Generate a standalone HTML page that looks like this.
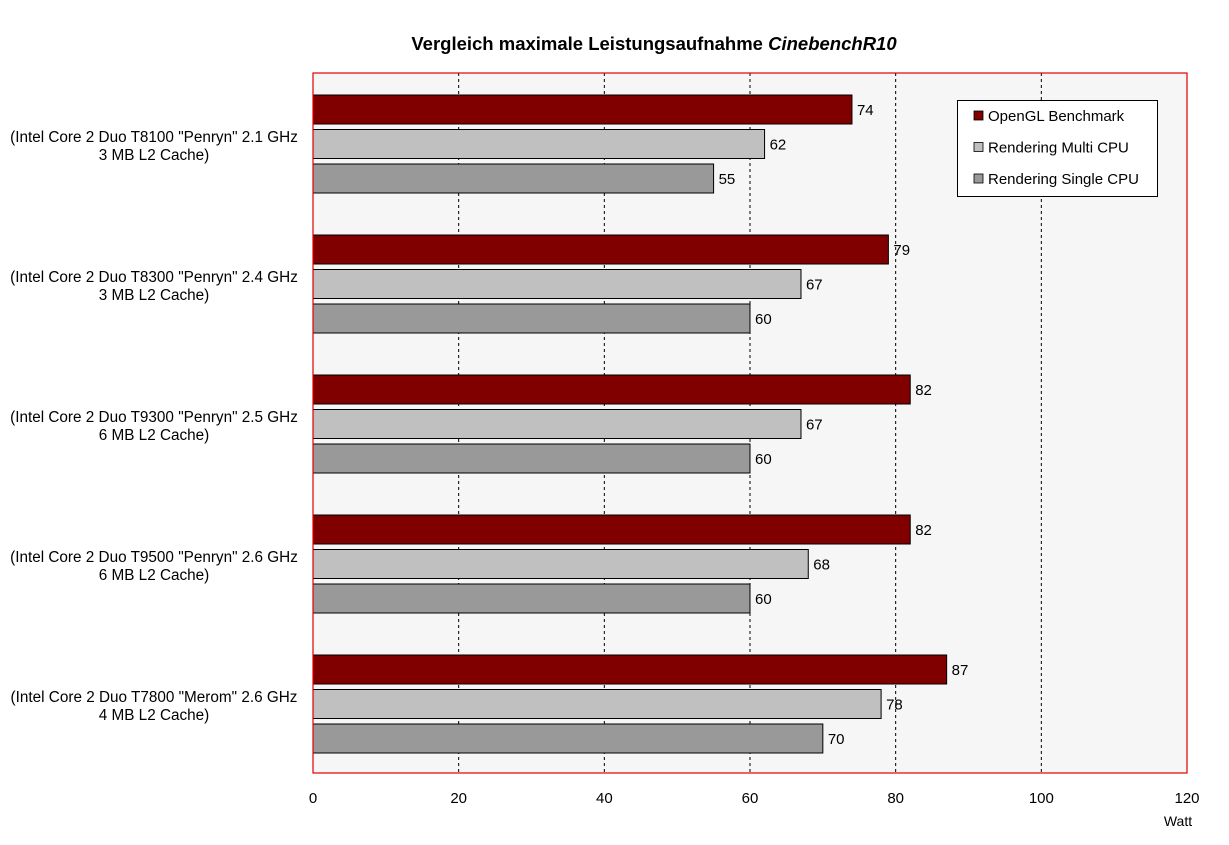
<!DOCTYPE html>
<html><head><meta charset="utf-8"><style>
body{margin:0;background:#fff;font-family:"Liberation Sans",Arial,sans-serif}
</style></head><body>
<svg id="chart" width="1229" height="840" xmlns="http://www.w3.org/2000/svg" font-family="Liberation Sans, Arial, sans-serif"></svg>
<script>
const categories=[['(Intel Core 2 Duo T8100 "Penryn" 2.1 GHz','3 MB L2 Cache)'],['(Intel Core 2 Duo T8300 "Penryn" 2.4 GHz','3 MB L2 Cache)'],['(Intel Core 2 Duo T9300 "Penryn" 2.5 GHz','6 MB L2 Cache)'],['(Intel Core 2 Duo T9500 "Penryn" 2.6 GHz','6 MB L2 Cache)'],['(Intel Core 2 Duo T7800 "Merom" 2.6 GHz','4 MB L2 Cache)']];
const openGL=[74,79,82,82,87];
const multiCPU=[62,67,67,68,78];
const singleCPU=[55,60,60,60,70];
const seriesNames=['OpenGL Benchmark','Rendering Multi CPU','Rendering Single CPU'];
const xTicks=[0,20,40,60,80,100,120];
const svg=document.getElementById('chart');
const NS='http://www.w3.org/2000/svg';
function mk(t,a,p){const e=document.createElementNS(NS,t);for(const k in a)e.setAttribute(k,a[k]);(p||svg).appendChild(e);return e;}
const L=313,R=1187,T=73,B=773;
const x=v=>L+(R-L)*v/120;
const band=(B-T)/categories.length;
const colors=['#800000','#c0c0c0','#999999'];
const series=[openGL,multiCPU,singleCPU];
let e;
e=mk('text',{x:654,y:50,'text-anchor':'middle','font-size':18.5,'font-weight':'bold'});e.innerHTML='Vergleich maximale Leistungsaufnahme <tspan font-style="italic">CinebenchR10</tspan>';

e=mk('rect',{x:L,y:T,width:R-L,height:B-T,fill:'#f6f6f6'});

xTicks.forEach((t,i)=>{
 if(i>0&&i<xTicks.length-1){e=mk('line',{x1:x(t),x2:x(t),y1:T,y2:B,stroke:'#000','stroke-dasharray':'3,3'});
 }
 e=mk('text',{x:x(t),y:803,'text-anchor':'middle','font-size':15});e.textContent=t;
 
});
e=mk('text',{x:1178,y:826,'text-anchor':'middle','font-size':14});e.textContent='Watt';

categories.forEach((c,i)=>{
 const g0=T+band*i;
 series.forEach((s,j)=>{
  const y0=g0+22+j*34.5;
  e=mk('rect',{x:L,y:y0,width:x(s[i])-L,height:29,fill:colors[j],stroke:'#000','stroke-width':1});
  
  e=mk('text',{x:x(s[i])+5,y:y0+20,'font-size':15});e.textContent=s[i];
  
 });
 e=mk('text',{x:154,y:g0+69,'text-anchor':'middle','font-size':15.3});e.textContent=c[0];
 
 e=mk('text',{x:154,y:g0+87,'text-anchor':'middle','font-size':15.3});e.textContent=c[1];
 
});
e=mk('rect',{x:L,y:T,width:R-L,height:B-T,fill:'none',stroke:'#e00000','stroke-width':1.2});

e=mk('rect',{x:957.5,y:100.5,width:200,height:96,fill:'#fff',stroke:'#000'});

seriesNames.forEach((n,j)=>{
 const yy=111+j*31.5;
 e=mk('rect',{x:974,y:yy,width:9,height:9,fill:colors[j],stroke:'#000','stroke-width':0.8});
 
 e=mk('text',{x:988,y:yy+10,'font-size':15});e.textContent=n;
 
});
</script>
</body></html>
